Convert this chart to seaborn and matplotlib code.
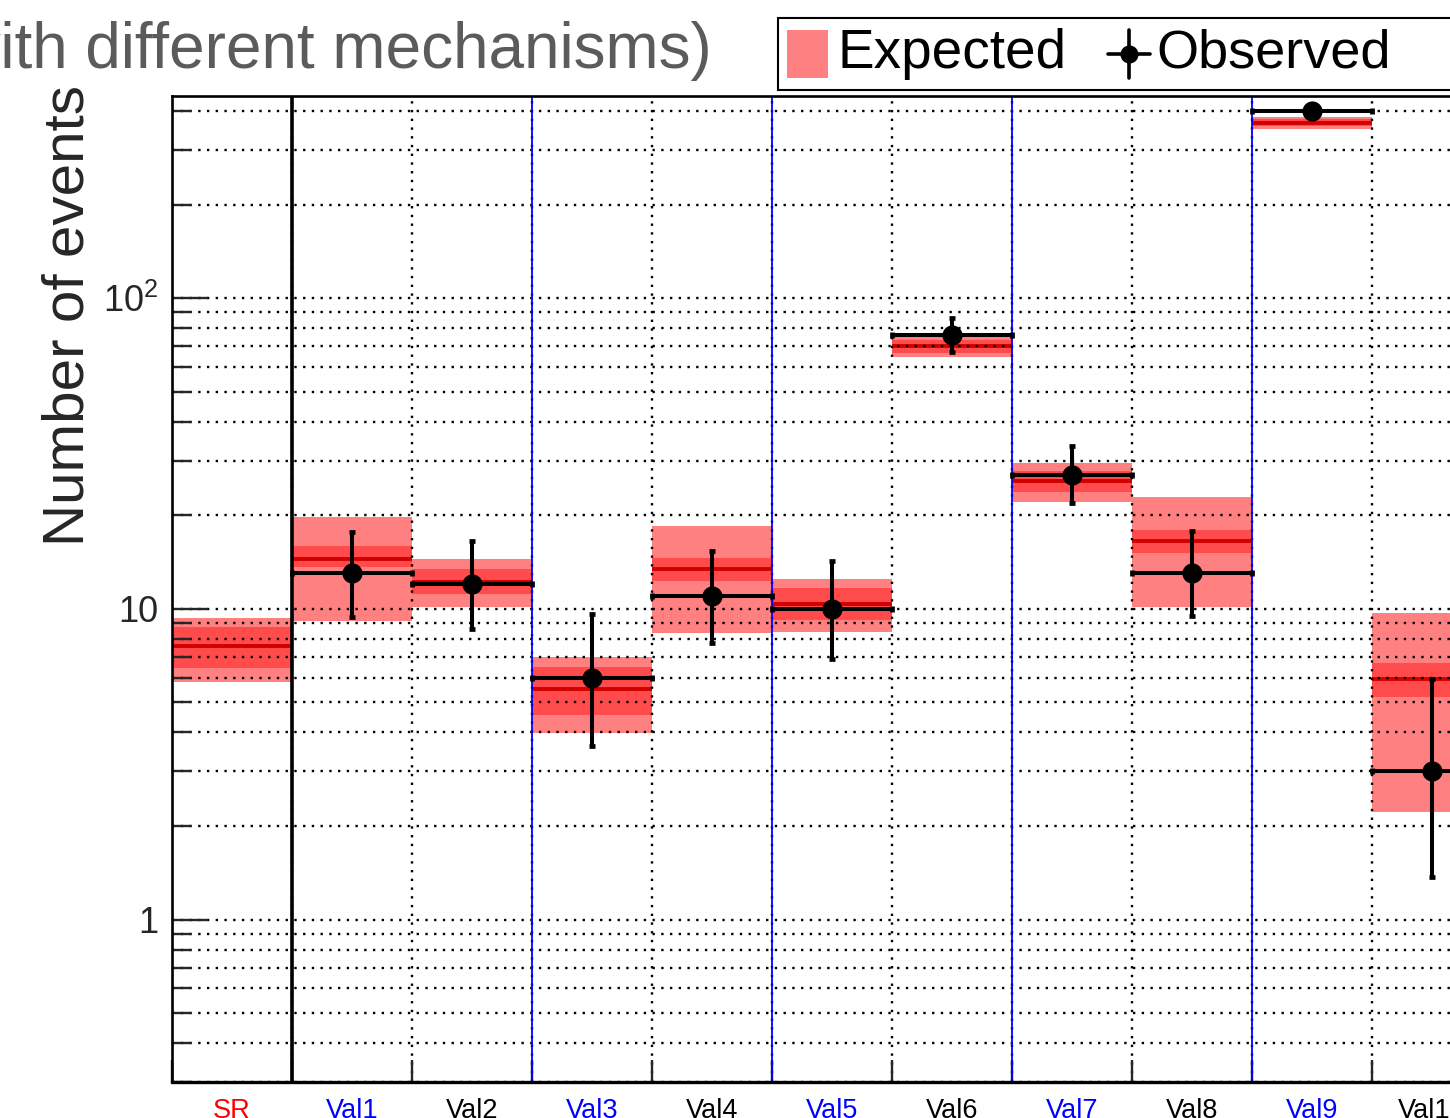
import numpy as np
import pandas as pd
import matplotlib
matplotlib.use("Agg")
import matplotlib.pyplot as plt
import matplotlib.ticker as mticker
from matplotlib.patches import Rectangle
from matplotlib.lines import Line2D
import seaborn as sns

# ---------------- data ----------------
categories = ["SR", "Val1", "Val2", "Val3", "Val4", "Val5", "Val6", "Val7", "Val8", "Val9", "Val10"]
label_colors = ["red", "blue", "black", "blue", "black", "blue", "black", "blue", "black", "blue", "black"]

exp_center = [7.60, 14.5, 12.2, 5.53, 13.4, 10.4, 69.9, 25.7, 16.5, 367, 5.95]
exp_inner_lo = [6.45, 13.6, 11.2, 4.56, 12.3, 9.20, 66.4, 23.7, 15.1, 357, 5.21]
exp_inner_hi = [8.74, 15.9, 13.4, 6.50, 14.6, 11.7, 73.1, 27.7, 17.9, 378, 6.70]
exp_outer_lo = [5.82, 9.14, 10.1, 3.99, 8.36, 8.42, 64.4, 22.0, 10.1, 351, 2.22]
exp_outer_hi = [9.34, 19.7, 14.5, 7.00, 18.5, 12.5, 74.7, 29.4, 22.9, 383, 9.69]

obs = [np.nan, 13, 12, 6, 11, 10, 76, 27, 13, 400, 3]
obs_hi = [np.nan, 17.65, 16.5, 9.62, 15.3, 14.2, 86.0, 33.4, 17.8, 420, 5.95]
obs_lo = [np.nan, 9.41, 8.61, 3.62, 7.77, 6.90, 66.9, 21.9, 9.45, 380, 1.37]

ytick_values = [1, 10, 100]
ytick_labels = ["1", "10", r"$\mathregular{10^{2}}$"]

title_text = "(with different mechanisms)"
ylabel = "Number of events"

# ---------------- style ----------------
sns.set_theme(style="white")
plt.rcParams["font.family"] = ["Liberation Sans", "DejaVu Sans"]
plt.rcParams["mathtext.fontset"] = "custom"
plt.rcParams["mathtext.rm"] = "Liberation Sans"
plt.rcParams["mathtext.it"] = "Liberation Sans:italic"
plt.rcParams["mathtext.bf"] = "Liberation Sans:bold"

W, H = 1450, 1118
fig = plt.figure(figsize=(W / 100, H / 100), dpi=100)
fig.patch.set_facecolor("white")


def fx(x):
    return x / W


def fy(y):
    return 1 - y / H


ax_left, ax_right, ax_top, ax_bot = 172, 172 + 11 * 120, 96, 1082
ax = fig.add_axes([fx(ax_left), fy(ax_bot), (ax_right - ax_left) / W, (ax_bot - ax_top) / H])
ax.set_facecolor("white")

df = pd.DataFrame({
    "cat": categories,
    "x": np.arange(len(categories)) + 0.5,
    "center": exp_center,
    "ilo": exp_inner_lo, "ihi": exp_inner_hi,
    "olo": exp_outer_lo, "ohi": exp_outer_hi,
    "obs": obs, "obs_lo": obs_lo, "obs_hi": obs_hi,
})

outer_col = "#ff8080"
inner_col = "#ff4b4b"
line_col = "#d00000"

# expected bands
ax.bar(df["x"], df["ohi"] - df["olo"], bottom=df["olo"], width=1.0,
       color=outer_col, linewidth=0, zorder=1)
ax.bar(df["x"], df["ihi"] - df["ilo"], bottom=df["ilo"], width=1.0,
       color=inner_col, linewidth=0, zorder=1.2)
ax.hlines(df["center"], df["x"] - 0.5, df["x"] + 0.5, colors=line_col, lw=2.8, zorder=1.4)

ax.set_yscale("log")
ax.set_ylim(0.3, 447)
ax.set_xlim(0, 11)

# grid (dotted)
ax.set_xticks(np.arange(0, 12))
ax.xaxis.set_major_formatter(mticker.NullFormatter())
ax.yaxis.set_major_locator(mticker.FixedLocator(ytick_values))
ax.yaxis.set_minor_locator(mticker.LogLocator(base=10, subs=np.arange(2, 10), numticks=20))
ax.yaxis.set_minor_formatter(mticker.NullFormatter())
ax.yaxis.set_major_formatter(mticker.FixedFormatter(ytick_labels))
grid_kw = dict(color="black", linewidth=1.7, linestyle=(0, (1.0, 2.7)))
ax.grid(True, which="both", axis="y", **grid_kw)
ax.grid(True, which="major", axis="x", **grid_kw)
ax.set_axisbelow(False)

# separators
ax.axvline(1, color="black", lw=2.6, zorder=2.7)
for xv in [3, 5, 7, 9]:
    ax.axvline(xv, color="#0000ff", lw=1.3, zorder=2.7)

# observed
ax.errorbar(df["x"], df["obs"], xerr=0.5,
            yerr=[df["obs"] - df["obs_lo"], df["obs_hi"] - df["obs"]],
            fmt="none", ecolor="black", elinewidth=2.9, capsize=2.4, capthick=3.4, zorder=3)
sns.scatterplot(data=df.dropna(), x="x", y="obs", ax=ax, color="black", s=210,
                edgecolor="black", linewidth=0, zorder=4, legend=False)

ax.set_xlabel("")
ax.set_ylabel("")

# ticks
ax.tick_params(axis="y", which="major", direction="in", length=26, width=1.7,
               labelsize=26, pad=10, left=True, right=False)
ax.tick_params(axis="y", which="minor", direction="in", length=14, width=1.7, left=True, right=False)
ax.tick_params(axis="x", which="major", direction="in", length=16, width=1.7, bottom=True, top=False)

for s in ax.spines.values():
    s.set_color("black")
    s.set_linewidth(1.9)
    s.set_zorder(5)
ax.spines["bottom"].set_linewidth(2.4)

# category labels
for xc, lab, col in zip(df["x"], categories, label_colors):
    ax.text(xc, -0.016, lab, transform=ax.get_xaxis_transform(), ha="center", va="top",
            color=col, fontsize=19.5)

# y label
ax.set_ylabel(ylabel, fontsize=42)
ax.yaxis.label.set_va("center")
ax.yaxis.set_label_coords((69 - ax_left) / (ax_right - ax_left), (ax_bot - 316) / (ax_bot - ax_top))

# title (cut at left)
fig.text(fx(712), fy(68), title_text, ha="right", va="baseline", fontsize=46, color="#5b5b5b")

# legend (cut at right)
fig.patches.append(Rectangle((fx(778), fy(90)), (1520 - 778) / W, 72 / H, transform=fig.transFigure,
                             facecolor="white", edgecolor="black", lw=1.5, zorder=5))
fig.patches.append(Rectangle((fx(787), fy(78)), 41 / W, 48 / H, transform=fig.transFigure,
                             facecolor=outer_col, edgecolor="none", zorder=6))
fig.text(fx(837), fy(54), "Expected", ha="left", va="center", fontsize=39.5, color="black", zorder=7)
fig.lines.append(Line2D([fx(1108), fx(1150)], [fy(54), fy(54)], transform=fig.transFigure,
                        color="black", lw=2.6, zorder=7))
fig.lines.append(Line2D([fx(1129), fx(1129)], [fy(30), fy(78)], transform=fig.transFigure,
                        color="black", lw=2.6, zorder=7))
fig.lines.append(Line2D([fx(1129)], [fy(54)], transform=fig.transFigure, marker="o",
                        markersize=12, color="black", zorder=8))
fig.text(fx(1156), fy(54), "Observed", ha="left", va="center", fontsize=39, color="black", zorder=7)

fig.savefig("out.png", dpi=100, facecolor="white")
